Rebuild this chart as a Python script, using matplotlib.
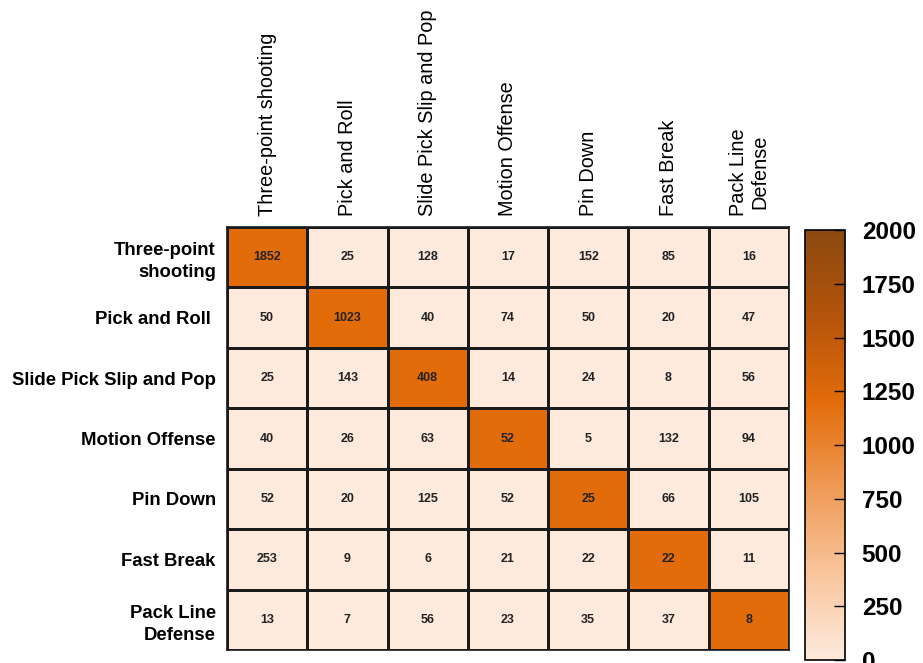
import matplotlib.pyplot as plt
import numpy as np
from matplotlib.colors import ListedColormap, LinearSegmentedColormap, Normalize
from matplotlib.cm import ScalarMappable

plt.rcParams['font.family'] = ['Liberation Sans', 'DejaVu Sans']

# Dane
col_labels = ['Three-point shooting', 'Pick and Roll', 'Slide Pick Slip and Pop',
              'Motion Offense', 'Pin Down', 'Fast Break', 'Pack Line\nDefense']
row_labels = ['Three-point\nshooting', 'Pick and Roll ', 'Slide Pick Slip and Pop',
              'Motion Offense', 'Pin Down', 'Fast Break', 'Pack Line\nDefense']
counts = np.array([
    [1852, 25, 128, 17, 152, 85, 16],
    [50, 1023, 40, 74, 50, 20, 47],
    [25, 143, 408, 14, 24, 8, 56],
    [40, 26, 63, 52, 5, 132, 94],
    [52, 20, 125, 52, 25, 66, 105],
    [253, 9, 6, 21, 22, 22, 11],
    [13, 7, 56, 23, 35, 37, 8],
])
cbar_ticks = [0, 250, 500, 750, 1000, 1250, 1500, 1750, 2000]

n = len(col_labels)
fig = plt.figure(figsize=(9.23, 6.63), dpi=100)
ax = fig.add_axes([0.2459, 0.0196, 0.6089, 0.638])

# przekatna wyrozniona kolorem
cell_cmap = ListedColormap(['#FDEADD', '#E36C0A'])
ax.pcolormesh(np.eye(n), cmap=cell_cmap, edgecolors='#1a1a1a', linewidth=1.0)
ax.set_xlim(0, n)
ax.set_ylim(n, 0)

for i in range(n):
    for j in range(n):
        ax.text(j + 0.5, i + 0.5, str(counts[i, j]), ha='center', va='center',
                fontsize=9, fontweight='bold', color='#222222')

ax.xaxis.tick_top()
ax.set_xticks(np.arange(n) + 0.5)
ax.set_xticklabels(col_labels, rotation=90, fontsize=14.3, ha='center', va='bottom',
                   linespacing=1.15)
ax.set_yticks(np.arange(n) + 0.5)
ax.set_yticklabels(row_labels, fontsize=13.3, fontweight='bold', ha='right',
                   multialignment='right', linespacing=1.4)
ax.tick_params(length=0, pad=8)
for s in ax.spines.values():
    s.set_linewidth(1.2)
    s.set_color('#1a1a1a')

# pasek kolorow
cax = fig.add_axes([0.8722, 0.0045, 0.0433, 0.6486])
grad = LinearSegmentedColormap.from_list(
    'org', ['#FDEADD', '#F8C59C', '#EE9A55', '#E36C0A', '#B4540B', '#8B4A10'])
cb = fig.colorbar(ScalarMappable(norm=Normalize(0, 2000), cmap=grad), cax=cax)
cb.set_ticks(cbar_ticks)
cb.ax.tick_params(direction='in', length=8, width=1, labelsize=17.5, pad=12)
for t in cb.ax.get_yticklabels():
    t.set_fontweight('bold')
cb.outline.set_linewidth(1.2)

plt.savefig('out.png', dpi=100)
